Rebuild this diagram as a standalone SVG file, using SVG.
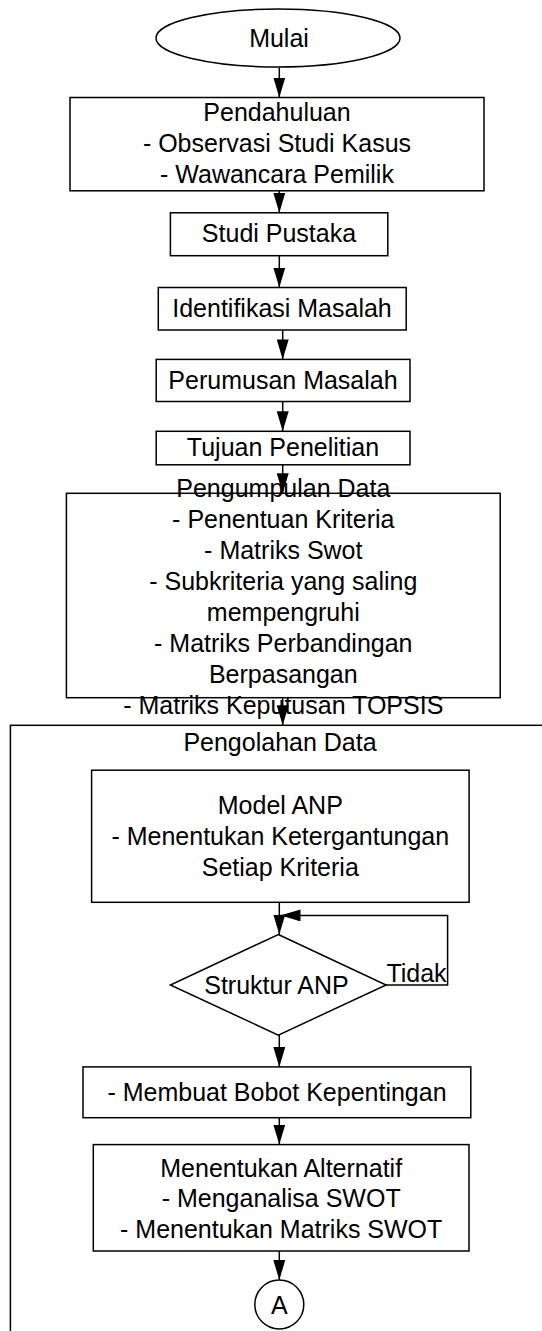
<svg xmlns="http://www.w3.org/2000/svg" width="542" height="1331" viewBox="0 0 542 1331">
<defs>
<style>
.box{fill:#fff;stroke:#000;stroke-width:1.5}
.ln{fill:none;stroke:#000;stroke-width:1.5}
.t{font-family:"Liberation Sans",Arial,sans-serif;font-size:25px;fill:#000;text-anchor:middle}
</style>
<marker id="ah" markerUnits="userSpaceOnUse" markerWidth="20" markerHeight="12" refX="20" refY="6" orient="auto">
<path d="M0,0 L20,6 L0,12 Z" fill="#000"/>
</marker>
</defs>
<rect width="542" height="1331" fill="#fff"/>
<g id="pengolahan">
<rect class="box" x="10.4" y="725.3" width="560" height="640"/>
<text class="t" x="280" y="751">Pengolahan Data</text>
</g>
<g id="mulai">
<ellipse class="box" cx="278" cy="38" rx="122" ry="29"/>
<text class="t" x="279" y="46.5">Mulai</text>
</g>
<g id="pendahuluan">
<rect class="box" x="70" y="97.5" width="414" height="93.3"/>
<text class="t" x="277" y="121">Pendahuluan</text>
<text class="t" x="277" y="152">- Observasi Studi Kasus</text>
<text class="t" x="277" y="183">- Wawancara Pemilik</text>
</g>
<g id="studi">
<rect class="box" x="170.4" y="212.8" width="217.4" height="42.9"/>
<text class="t" x="279" y="242">Studi Pustaka</text>
</g>
<g id="identifikasi">
<rect class="box" x="158.3" y="287.5" width="247.9" height="42.5"/>
<text class="t" x="282" y="316.5">Identifikasi Masalah</text>
</g>
<g id="perumusan">
<rect class="box" x="156.2" y="359.4" width="253.8" height="42.1"/>
<text class="t" x="283" y="389">Perumusan Masalah</text>
</g>
<g id="tujuan">
<rect class="box" x="156.2" y="431.3" width="253.8" height="33.5"/>
<text class="t" x="283" y="456">Tujuan Penelitian</text>
</g>
<g id="pengumpulan">
<rect class="box" x="66.4" y="493.3" width="433.8" height="204.4"/>
<text class="t" x="283.3" y="496.5">Pengumpulan Data</text>
<text class="t" x="283.3" y="527.5">- Penentuan Kriteria</text>
<text class="t" x="283.3" y="558.5">- Matriks Swot</text>
<text class="t" x="283.3" y="589.5">- Subkriteria yang saling</text>
<text class="t" x="283.3" y="620.5">mempengruhi</text>
<text class="t" x="283.3" y="651.5">- Matriks Perbandingan</text>
<text class="t" x="283.3" y="682.5">Berpasangan</text>
<text class="t" x="283.3" y="713.5">- Matriks Keputusan TOPSIS</text>
</g>
<g id="model-anp">
<rect class="box" x="91.6" y="770.2" width="377.5" height="132.1"/>
<text class="t" x="280.3" y="813.5">Model ANP</text>
<text class="t" x="280.3" y="844.5">- Menentukan Ketergantungan</text>
<text class="t" x="280.3" y="875.5">Setiap Kriteria</text>
</g>
<g id="struktur-anp">
<polygon class="box" points="278.3,934.5 386.1,985 278.3,1035.1 170.4,985"/>
<text class="t" x="276.5" y="993.5">Struktur ANP</text>
</g>
<g id="bobot">
<rect class="box" x="83" y="1066.9" width="387.8" height="50.8"/>
<text class="t" x="277" y="1100.5">- Membuat Bobot Kepentingan</text>
</g>
<g id="alternatif">
<rect class="box" x="93.3" y="1144.6" width="375.7" height="106.4"/>
<text class="t" x="281.2" y="1176.5">Menentukan Alternatif</text>
<text class="t" x="281.2" y="1207">- Menganalisa SWOT</text>
<text class="t" x="281.2" y="1238">- Menentukan Matriks SWOT</text>
</g>
<g id="konektor-a">
<circle class="box" cx="279.3" cy="1304.5" r="24.5"/>
<text class="t" x="279.3" y="1313.5">A</text>
</g>
<g id="connectors">
<path class="ln" d="M279.3,67.4 V97.5" marker-end="url(#ah)"/>
<path class="ln" d="M279.3,190.8 V212.8" marker-end="url(#ah)"/>
<path class="ln" d="M279.3,255.7 V287.5" marker-end="url(#ah)"/>
<path class="ln" d="M282.7,330 V359.4" marker-end="url(#ah)"/>
<path class="ln" d="M282.7,401.5 V431.3" marker-end="url(#ah)"/>
<path class="ln" d="M282.7,464.8 V493.3" marker-end="url(#ah)"/>
<path class="ln" d="M282.7,697.7 V725.3" marker-end="url(#ah)"/>
<path class="ln" d="M279.3,902.3 V934.5" marker-end="url(#ah)"/>
<path class="ln" d="M386.1,985 H447.6 V915.4 H280.5" marker-end="url(#ah)"/>
<text class="t" x="416.5" y="982">Tidak</text>
<path class="ln" d="M279.3,1035.1 V1066.9" marker-end="url(#ah)"/>
<path class="ln" d="M279.3,1117.7 V1144.6" marker-end="url(#ah)"/>
<path class="ln" d="M279.3,1251 V1280" marker-end="url(#ah)"/>
</g>
</svg>
